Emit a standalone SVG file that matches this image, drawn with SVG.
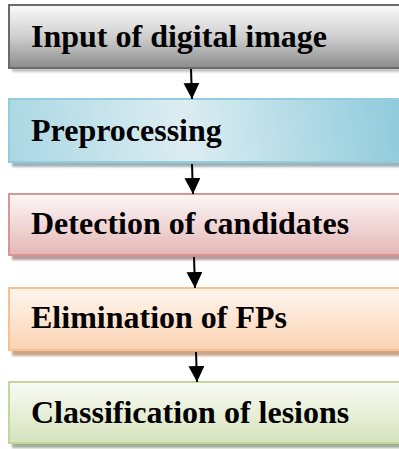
<svg xmlns="http://www.w3.org/2000/svg" width="399" height="449" viewBox="0 0 399 449">
  <style>
    .label { font-family: "Liberation Serif", "Times New Roman", serif; font-weight: bold; font-size: 32px; fill: #000; }
    .box { stroke-width: 2; }
    .shadow { filter: url(#soft); }
    .link { stroke: #000; stroke-width: 2; fill: none; marker-end: url(#head); }
  </style>
  <defs>
    <filter id="soft" x="-5%" y="-20%" width="110%" height="140%">
      <feGaussianBlur stdDeviation="0.8"/>
    </filter>
    <marker id="head" markerUnits="userSpaceOnUse" markerWidth="16" markerHeight="16" refX="16" refY="8" orient="auto">
      <path d="M0,0 L16,8 L0,16 Z" fill="#000"/>
    </marker>
    <linearGradient id="gGray" x1="0" y1="0" x2="0" y2="1">
      <stop offset="0" stop-color="#fbfbfb"/>
      <stop offset="0.5" stop-color="#cfcfcf"/>
      <stop offset="1" stop-color="#8c8c8c"/>
    </linearGradient>
    <linearGradient id="gBlue" gradientUnits="userSpaceOnUse" x1="9" y1="163" x2="400" y2="99">
      <stop offset="0" stop-color="#a9d7e3"/>
      <stop offset="0.45" stop-color="#dcedf2"/>
      <stop offset="1" stop-color="#8ecbdb"/>
    </linearGradient>
    <linearGradient id="gPink" x1="0" y1="0" x2="0" y2="1">
      <stop offset="0" stop-color="#fdf7f7"/>
      <stop offset="1" stop-color="#e4b7b6"/>
    </linearGradient>
    <linearGradient id="gOrange" x1="0" y1="0" x2="0" y2="1">
      <stop offset="0" stop-color="#fef6ef"/>
      <stop offset="1" stop-color="#fbd3b2"/>
    </linearGradient>
    <linearGradient id="gGreen" x1="0" y1="0" x2="0" y2="1">
      <stop offset="0" stop-color="#f9fbf4"/>
      <stop offset="1" stop-color="#d6e3bc"/>
    </linearGradient>
  </defs>

  <g id="node-input">
    <rect class="shadow" x="12" y="9" width="400" height="63" fill="#c4c4c4"/>
    <rect class="box" x="9" y="5" width="400" height="63" fill="url(#gGray)" stroke="#6a6a6a"/>
    <text class="label" x="31" y="47">Input of digital image</text>
  </g>

  <g id="node-preprocessing">
    <rect class="shadow" x="12" y="103" width="400" height="64" fill="#9fb3b8"/>
    <rect class="box" x="9" y="99" width="400" height="63" fill="url(#gBlue)" stroke="#93cddd"/>
    <text class="label" x="31" y="141">Preprocessing</text>
  </g>

  <g id="node-detection">
    <rect class="shadow" x="12" y="198" width="400" height="62" fill="#b89a9a"/>
    <rect class="box" x="9" y="194" width="400" height="61" fill="url(#gPink)" stroke="#d99694"/>
    <text class="label" x="31" y="234">Detection of candidates</text>
  </g>

  <g id="node-elimination">
    <rect class="shadow" x="12" y="292" width="400" height="64" fill="#c9a68a"/>
    <rect class="box" x="9" y="288" width="400" height="62" fill="url(#gOrange)" stroke="#fac090"/>
    <text class="label" x="31" y="328">Elimination of FPs</text>
  </g>

  <g id="node-classification">
    <rect class="shadow" x="12" y="386" width="400" height="62" fill="#a5ad98"/>
    <rect class="box" x="9" y="382" width="400" height="61" fill="url(#gGreen)" stroke="#c3d69b"/>
    <text class="label" x="31" y="423">Classification of lesions</text>
  </g>

  <g id="connectors">
    <line class="link" x1="191" y1="69" x2="192" y2="99"/>
    <line class="link" x1="192" y1="164" x2="193" y2="194"/>
    <line class="link" x1="194" y1="257" x2="195" y2="288"/>
    <line class="link" x1="196" y1="352" x2="197" y2="382"/>
  </g>
</svg>
